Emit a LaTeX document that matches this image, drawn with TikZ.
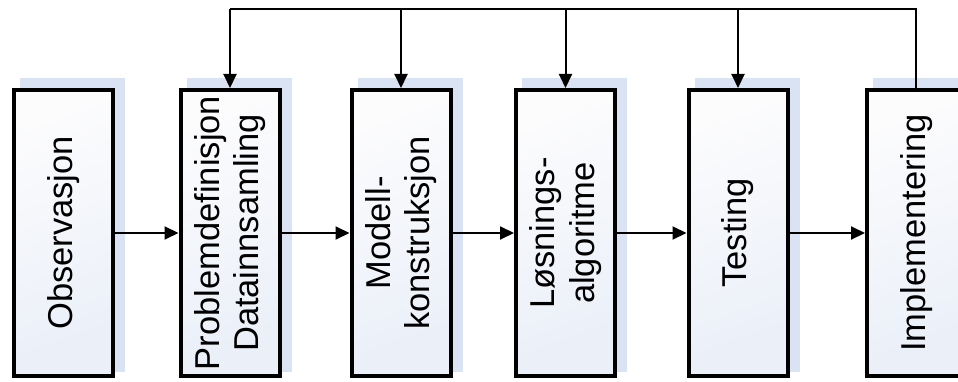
\documentclass[tikz,border=0pt]{standalone}
\usepackage{fontspec}
\setmainfont{Liberation Sans}
\usetikzlibrary{arrows.meta,backgrounds}
\definecolor{shadowc}{RGB}{218,227,243}
\definecolor{boxtop}{RGB}{252,252,253}
\definecolor{boxlow}{RGB}{234,239,248}
\tikzset{
  stagebox/.style={draw=black, line width=4pt, minimum width=99pt, minimum height=286pt,
    inner sep=0pt, top color=boxtop, bottom color=boxlow, shading angle=20},
  shadowbox/.style={fill=shadowc},
  lbl/.style={rotate=90, align=center, font=\fontsize{34.5}{39.5}\selectfont, inner sep=0pt},
  flow/.style={line width=2pt, -{Triangle[length=14pt,width=13pt]}},
  fb/.style={line width=2pt}
}
\begin{document}
\begin{tikzpicture}[x=1pt,y=1pt]
\clip (0,0) rectangle (958,381);
\node[stagebox] (b1) at (63.5,148) {};
\node[stagebox] (b2) at (230,148) {};
\node[stagebox] (b3) at (401,148) {};
\node[stagebox] (b4) at (565.5,148) {};
\node[stagebox] (b5) at (738,148) {};
\node[stagebox] (b6) at (916.5,148) {};
\begin{scope}[on background layer]
\fill[white] (0,0) rectangle (958,381);
\foreach \b in {b1,b2,b3,b4,b5,b6}
  \fill[shadowbox] ([shift={(8,6)}]\b.south west) rectangle ([shift={(10,10)}]\b.north east);
\end{scope}
\node[lbl] (t1) at (b1) {Observasjon};
\node[lbl] (t2) at (b2) {Problemdefinisjon\\Datainnsamling};
\node[lbl] (t3) at (b3) {Modell-\\konstruksjon};
\node[lbl] (t4) at (b4) {Løsnings-\\algoritme};
\node[lbl] (t5) at (b5) {Testing};
\node[lbl] (t6) at (b6) {Implementering};
\draw[flow] (b1) -- (b2);
\draw[flow] (b2) -- (b3);
\draw[flow] (b3) -- (b4);
\draw[flow] (b4) -- (b5);
\draw[flow] (b5) -- (b6);
\coordinate (c2) at (230,372);
\coordinate (c3) at (401,372);
\coordinate (c4) at (565.5,372);
\coordinate (c5) at (738,372);
\coordinate (c6) at (916,372);
\draw[fb] (b6.north -| c6) -- (c6) -- (c2);
\draw[flow] (c2) -- (b2);
\draw[flow] (c3) -- (b3);
\draw[flow] (c4) -- (b4);
\draw[flow] (c5) -- (b5);
\end{tikzpicture}
\end{document}
